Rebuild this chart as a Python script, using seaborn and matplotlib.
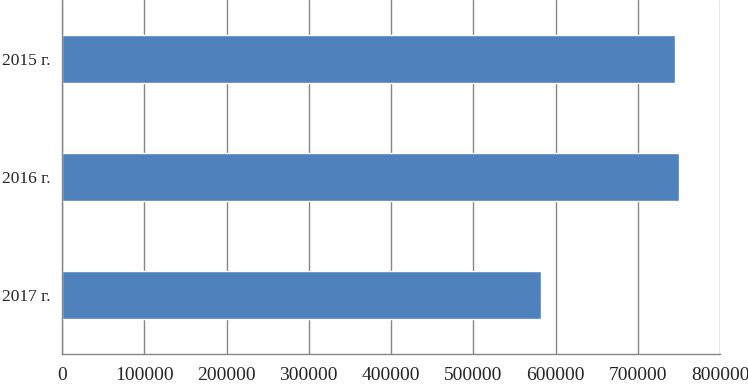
import pandas as pd
import matplotlib.pyplot as plt
import seaborn as sns

# values per year
years = ['2015 г.', '2016 г.', '2017 г.']
values = [745600, 749600, 582900]
x_ticks = [0, 100000, 200000, 300000, 400000, 500000, 600000, 700000, 800000]

df = pd.DataFrame({'Year': years, 'Value': values})

sns.set_style('white')
plt.rcParams['font.family'] = ['Liberation Serif', 'DejaVu Serif']

fig = plt.figure(figsize=(7.48, 3.84), dpi=100)
ax = fig.add_axes([62 / 748, 30 / 384, 658 / 748, 354 / 384])

sns.barplot(data=df, x='Value', y='Year', orient='h', color='#4F81BD',
            saturation=1, width=0.4, ax=ax)

ax.set_xlim(0, 800000)
ax.set_ylim(2.5, -0.5)
ax.set_xticks(x_ticks)
ax.set_xticklabels([str(t) for t in x_ticks], fontsize=14)
ax.set_yticks([-0.5, 0.5, 1.5, 2.5], minor=False)
ax.set_yticklabels([])
ax.set_yticks([0, 1, 2], minor=True)
ax.set_yticklabels(years, minor=True, fontsize=12.5)
ax.tick_params(axis='y', which='minor', length=0, pad=8.5)
ax.tick_params(axis='y', which='major', length=4, color='#868686', width=1)
ax.tick_params(axis='x', length=4, color='#868686', width=1, pad=5)
ax.set_xlabel('')
ax.set_ylabel('')

ax.grid(axis='x', color='#868686', linewidth=1)
ax.set_axisbelow(True)
for s in ['top', 'right']:
    ax.spines[s].set_visible(False)
for s in ['left', 'bottom']:
    ax.spines[s].set_color('#868686')
    ax.spines[s].set_linewidth(1)

fig.savefig('out.png', dpi=100)
